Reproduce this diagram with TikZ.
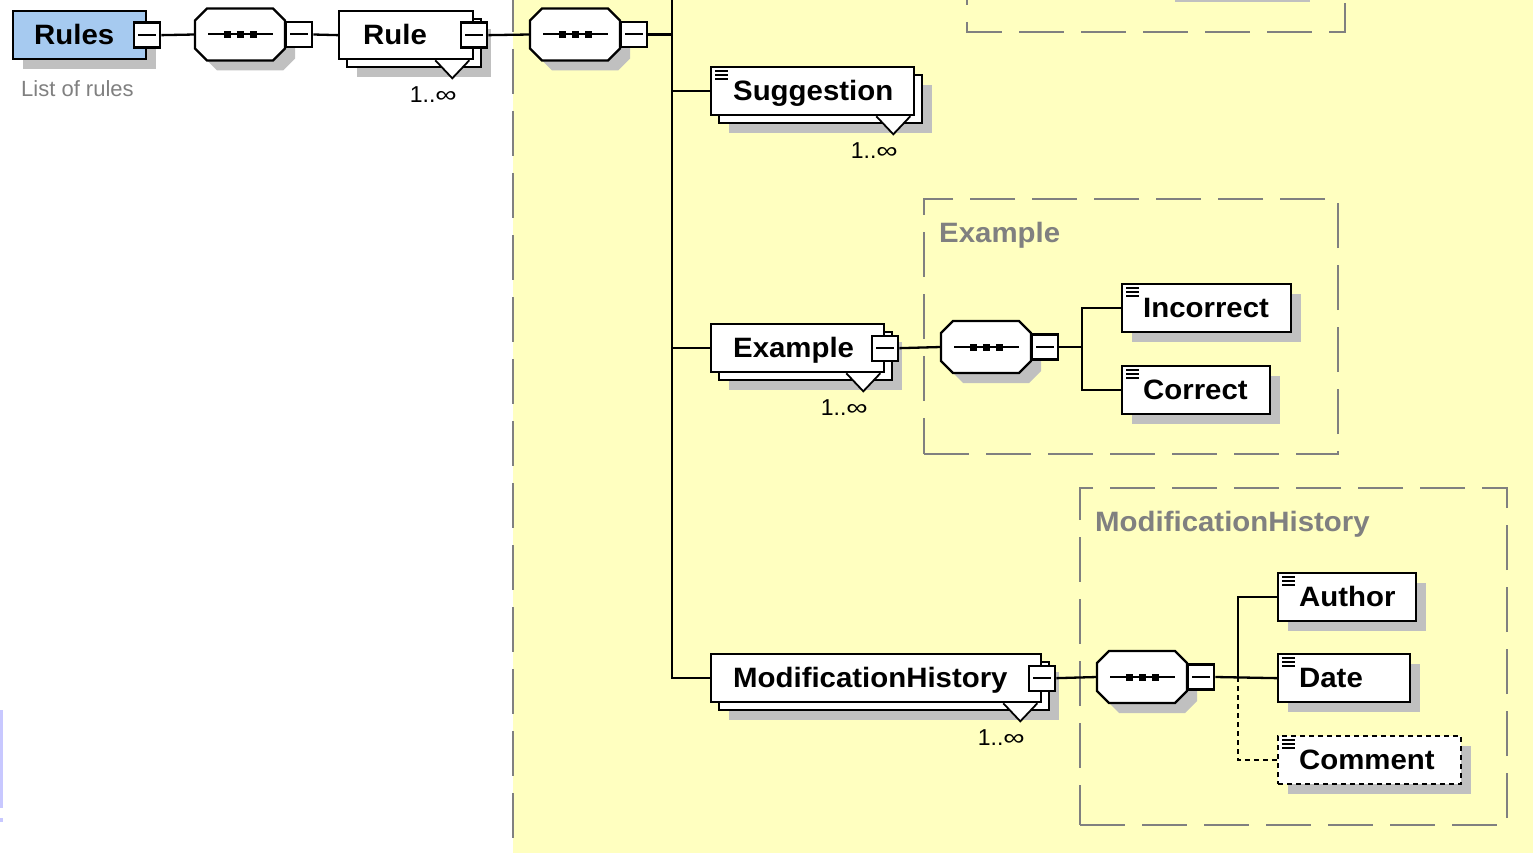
\documentclass[tikz,border=0pt]{standalone}
\usepackage{fontspec}
\setmainfont{Liberation Sans}
\newfontfamily\elemfamily{Liberation Sans}[FakeStretch=1.05]
\usetikzlibrary{shadows}
\definecolor{bgyellow}{RGB}{255,255,192}
\definecolor{rootblue}{RGB}{166,202,240}
\definecolor{shgray}{RGB}{192,192,192}
\definecolor{dashgray}{RGB}{128,128,128}
\definecolor{notegray}{RGB}{128,128,128}
\definecolor{lavender}{RGB}{200,200,255}
\newcommand{\elemfont}{\elemfamily\bfseries\fontsize{28}{30}\selectfont}
\newcommand{\multfont}{\fontsize{23}{25}\selectfont}
\newcommand{\notefont}{\fontsize{22}{24}\selectfont}
\newcommand{\infsym}{\scalebox{1.3}[1]{∞}}
% octagonal sequence compositor drawn over a named placeholder node
\newcommand{\seqdraw}[1]{%
  \fill[shgray, transform canvas={xshift=10pt,yshift=-10pt}]
    ([xshift=12pt]#1.north west) -- ([xshift=-12pt]#1.north east) --
    ([yshift=-12pt]#1.north east) -- ([yshift=12pt]#1.south east) --
    ([xshift=-12pt]#1.south east) -- ([xshift=12pt]#1.south west) --
    ([yshift=12pt]#1.south west) -- ([yshift=-12pt]#1.north west) -- cycle;
  \filldraw[fill=white, line width=2.3pt]
    ([xshift=12pt]#1.north west) -- ([xshift=-12pt]#1.north east) --
    ([yshift=-12pt]#1.north east) -- ([yshift=12pt]#1.south east) --
    ([xshift=-12pt]#1.south east) -- ([xshift=12pt]#1.south west) --
    ([yshift=12pt]#1.south west) -- ([yshift=-12pt]#1.north west) -- cycle;
  \draw[line width=2pt] ([xshift=-32pt]#1.center) -- ([xshift=33pt]#1.center);
  \foreach \dx in {-16.5pt,-3.5pt,9.5pt}
    \fill[black] ([shift={(\dx,-3.5pt)}]#1.center) rectangle ++(7pt,7pt);
}

\begin{document}
\begin{tikzpicture}[x=1pt,y=-1pt,
  conn/.style={line width=2.3pt},
  gdash/.style={draw=dashgray, line width=2.2pt, dash pattern=on 45pt off 17pt},
  group/.style={gdash, rectangle, inner sep=0pt, anchor=north west},
  grouplabel/.style={font=\elemfont, text=notegray, inner sep=0pt, anchor=west},
  elem/.style={draw, line width=2.3pt, fill=white, anchor=north west,
    minimum height=48pt, inner xsep=0pt, inner ysep=0pt, align=left,
    text height=22pt, text depth=4pt, font=\elemfont},
  single/.style={general shadow={shadow xshift=10pt, shadow yshift=-10pt,
    fill=shgray, draw=none}},
  stacked/.style={
    general shadow={shadow xshift=18pt, shadow yshift=-18pt, fill=shgray, draw=none},
    general shadow={shadow xshift=8pt, shadow yshift=-8pt, fill=white,
      draw=black, line width=2.3pt}},
  leaf/.style={path picture={
    \foreach \dy in {-4pt,-8pt,-12pt}
      \draw[solid, line width=1.8pt] ([shift={(4pt,\dy)}]path picture bounding box.north west) -- ++(13pt,0pt);}},
  optional/.style={dash pattern=on 5pt off 4pt},
  minusbox/.style={draw, line width=2.3pt, fill=white, minimum width=26pt,
    minimum height=25pt, inner sep=0pt,
    path picture={\draw[line width=2pt]
      ([xshift=-9pt]path picture bounding box.center) --
      ([xshift=9pt]path picture bounding box.center);}},
  seqnode/.style={rectangle, minimum width=90pt, minimum height=52pt,
    inner sep=0pt, outer sep=0pt},
  tri/.style={draw=black, fill=white, line width=1.8pt},
  mult/.style={font=\multfont, inner sep=0pt},
  note/.style={font=\notefont, text=notegray, inner sep=0pt, anchor=west}
]
\useasboundingbox (0,0) rectangle (1533,853);
\clip (0,0) rectangle (1533,853);

% content area of the rule sequence
\fill[bgyellow] (513,-2) rectangle (1535,855);
\draw[gdash] (513,-13) -- (513,860);
\fill[lavender] (0,710) rectangle (3,808);
\fill[lavender] (0,818) rectangle (3,822);

% group frames
\draw[gdash] (967,-40) rectangle (1345,32);
\fill[shgray] (1175,-10) rectangle (1310,2.5);
\node[group, minimum width=414pt, minimum height=255pt] (exGroup) at (923,198) {};
\node[grouplabel] (exLabel) at (939,235) {Example};
\node[group, minimum width=427pt, minimum height=337pt] (mhGroup) at (1079,487) {};
\node[grouplabel] (mhLabel) at (1095,524) {ModificationHistory};

% top row
\node[elem, single, fill=rootblue, text width=133pt] (rules) at (12,10) {\hspace*{21pt}Rules};
\node[minusbox] (rulesM) at (rules.east) {};
\node[note] (rulesNote) at (21,89) {List of rules};
\node[seqnode] (seq1) at (240,34.5) {};
\seqdraw{seq1}
\node[minusbox, anchor=west] (seq1M) at (seq1.east) {};
\node[elem, stacked, text width=134pt] (rule) at (338,10) {\hspace*{24pt}Rule};
\filldraw[tri] ([xshift=-39pt]rule.south east) -- ++(17pt,-18pt) -- ++(17pt,18pt);
\node[minusbox] (ruleM) at (rule.east) {};
\node[mult] (ruleMult) at ([xshift=-41pt,yshift=-34pt]rule.south east) {1..\infsym};
\node[seqnode] (seq2) at (575,34.5) {};
\seqdraw{seq2}
\node[minusbox, anchor=west] (seq2M) at (seq2.east) {};

\draw[conn] (rulesM.east) -- (seq1.west);
\draw[conn] (seq1M.east) -- (rule.west);
\draw[conn] (ruleM.east) -- (seq2.west);

% children of the rule sequence
\coordinate (trunkTop) at (672,-5);
\node[elem, leaf, stacked, text width=203pt] (suggestion) at (710,66) {\hspace*{22pt}Suggestion};
\filldraw[tri] ([xshift=-39pt]suggestion.south east) -- ++(17pt,-18pt) -- ++(17pt,18pt);
\node[mult] (sugMult) at ([xshift=-41pt,yshift=-34pt]suggestion.south east) {1..\infsym};

\node[elem, stacked, text width=173pt] (example) at (710,323) {\hspace*{22pt}Example};
\filldraw[tri] ([xshift=-39pt]example.south east) -- ++(17pt,-18pt) -- ++(17pt,18pt);
\node[minusbox] (exampleM) at (example.east) {};
\node[mult] (exMult) at ([xshift=-41pt,yshift=-34pt]example.south east) {1..\infsym};

\node[elem, stacked, text width=330pt] (modhist) at (710,653) {\hspace*{22pt}ModificationHistory};
\filldraw[tri] ([xshift=-39pt]modhist.south east) -- ++(17pt,-18pt) -- ++(17pt,18pt);
\node[minusbox] (modhistM) at (modhist.east) {};
\node[mult] (mhMult) at ([xshift=-41pt,yshift=-34pt]modhist.south east) {1..\infsym};

\draw[conn] (seq2M.east) -- (seq2M.east -| trunkTop);
\draw[conn] (trunkTop) |- (modhist.west);
\draw[conn] (trunkTop |- suggestion.west) -- (suggestion.west);
\draw[conn] (trunkTop |- example.west) -- (example.west);

% Example content
\node[seqnode] (seq3) at (986,347) {};
\seqdraw{seq3}
\node[minusbox, anchor=west] (seq3M) at (seq3.east) {};
\coordinate (exFork) at (1082,347);
\node[elem, leaf, single, text width=169pt] (incorrect) at (1121,283) {\hspace*{21pt}Incorrect};
\node[elem, leaf, single, text width=148pt] (correct) at (1121,365) {\hspace*{21pt}Correct};
\draw[conn] (exampleM.east) -- (seq3.west);
\draw[conn] (seq3M.east) -- (exFork);
\draw[conn] (exFork) |- (incorrect.west);
\draw[conn] (exFork) |- (correct.west);

% ModificationHistory content
\node[seqnode] (seq4) at (1142,677) {};
\seqdraw{seq4}
\node[minusbox, anchor=west] (seq4M) at (seq4.east) {};
\coordinate (mhFork) at (1238,677);
\node[elem, leaf, single, text width=138pt] (author) at (1277,572) {\hspace*{21pt}Author};
\node[elem, leaf, single, text width=132pt] (date) at (1277,653) {\hspace*{21pt}Date};
\node[elem, leaf, single, optional, text width=183pt] (comment) at (1277,735) {\hspace*{21pt}Comment};
\draw[conn] (modhistM.east) -- (seq4.west);
\draw[conn] (seq4M.east) -- (date.west);
\draw[conn] (mhFork) |- (author.west);
\draw[conn, optional] (mhFork) |- (comment.west);
\end{tikzpicture}
\end{document}
